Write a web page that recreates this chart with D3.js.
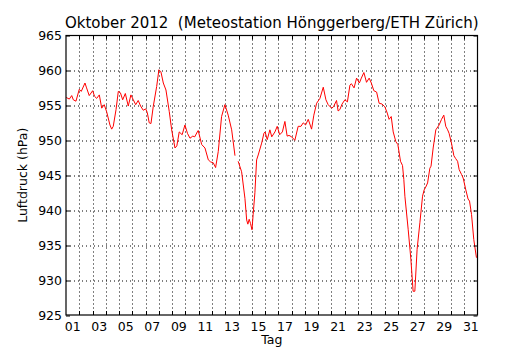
<!DOCTYPE html>
<html>
<head>
<meta charset="utf-8">
<script src="https://cdn.jsdelivr.net/npm/d3@7"></script>
<style>
  body { margin: 0; background: #fff; }
  text { font-family: "DejaVu Sans", sans-serif; white-space: pre; }
</style>
</head>
<body>
<svg id="chart" width="530" height="350"></svg>
<script>
// Luftdruck Oktober 2012, Tag als Dezimalzahl (1.0 = 1. Okt 00:00), null = Messlücke
var tage = [
  1.00, 1.05, 1.25, 1.43, 1.55, 1.75, 2.00, 2.15, 2.43, 2.55, 2.75, 3.01, 3.15, 3.31, 3.51, 3.69,
  3.88, 4.06, 4.31, 4.44, 4.56, 4.77, 4.94, 5.10, 5.27, 5.47, 5.69, 5.89, 6.07, 6.25, 6.44, 6.62,
  6.82, 7.00, 7.12, 7.27, 7.40, 7.57, 7.83, 8.00, 8.15, 8.33, 8.53, 8.78, 8.96, 9.21, 9.35, 9.53,
  9.75, 9.96, 10.15, 10.34, 10.55, 10.70, 10.89, 10.96, 11.22, 11.47, 11.72, 11.90, 12.09, 12.27,
  12.47, 12.72, 12.97, 13.22, 13.48, 13.73, 13.85, 13.97, 14.23, 14.48, 14.61, 14.70, 14.80, 14.90,
  15.01, 15.10, 15.23, 15.36, 15.48, 15.74, 15.91, 16.00, 16.16, 16.36, 16.50, 16.74, 16.91, 17.10,
  17.30, 17.49, 17.66, 17.80, 18.00, 18.24, 18.49, 18.70, 18.87, 19.05, 19.25, 19.50, 19.67, 19.88,
  20.13, 20.38, 20.58, 20.75, 21.01, 21.15, 21.38, 21.50, 21.63, 21.80, 22.01, 22.20, 22.39, 22.50,
  22.70, 22.89, 23.10, 23.25, 23.44, 23.64, 23.84, 24.00, 24.19, 24.40, 24.59, 24.80, 25.02, 25.20,
  25.34, 25.50, 25.65, 25.85, 26.00, 26.20, 26.35, 26.45, 26.53, 26.78, 26.98, 27.15, 27.28, 27.45,
  27.66, 27.86, 27.98, 28.10, 28.24, 28.41, 28.50, 28.66, 28.86, 29.11, 29.29, 29.46, 29.61, 29.75,
  29.86, 30.04, 30.22, 30.35, 30.50, 30.62, 30.80, 30.92, 31.12, 31.29, 31.40, 31.55, 31.72, 31.92
];
var druck = [
  956.2, 956.1, 955.9, 956.4, 955.8, 955.6, 957.3, 957.0, 958.2, 957.5, 956.4, 957.1, 956.3, 956.0, 956.5, 954.6,
  955.1, 954.1, 952.2, 951.6, 952.0, 954.4, 957.0, 956.8, 955.8, 956.7, 954.9, 956.5, 955.8, 955.1, 955.7, 954.9,
  954.3, 954.5, 954.0, 952.5, 952.4, 954.8, 957.7, 960.1, 959.8, 958.2, 957.2, 954.1, 951.5, 948.9, 949.2, 951.2,
  950.8, 952.2, 951.0, 950.3, 950.6, 950.5, 951.2, 951.4, 949.4, 948.9, 947.2, 946.9, 946.8, 946.1,
  948.4, 953.4, 955.1, 953.6, 951.5, 947.8, null, 947.0, 945.5, 941.7, 938.6, 938.0, 938.7, 938.1,
  937.2, 939.4, 942.5, 947.2, 947.9, 949.6, 951.0, 951.2, 950.1, 951.5, 950.5, 951.2, 952.0, 950.8,
  951.2, 952.7, 950.6, 950.7, 950.5, 950.0, 952.0, 952.0, 952.5, 952.2, 953.0, 951.6, 953.6, 955.3,
  956.0, 957.6, 955.8, 955.1, 954.6, 954.8, 955.7, 954.2, 954.4, 955.2, 955.8, 955.5, 957.9, 958.1,
  957.5, 958.9, 958.2, 958.9, 959.7, 958.3, 958.9, 958.2, 957.1, 956.9, 955.3, 955.2, 954.8, 953.9,
  953.0, 953.4, 951.2, 949.8, 949.4, 947.0, 946.4, 944.4, 942.0, 937.2, 933.0, 928.4, 928.4, 934.4,
  938.2, 942.0, 942.9, 943.3, 943.9, 946.0, 946.3, 948.9, 951.5, 952.2, 953.0, 953.6, 952.0, 951.5,
  951.0, 949.6, 947.8, 947.4, 947.0, 945.8, 945.1, 944.6, 942.9, 941.6, 941.3, 939.4, 935.8, 933.2
];
var yTicks = [925, 930, 935, 940, 945, 950, 955, 960, 965];
var tagLabels = ["01", "03", "05", "07", "09", "11", "13", "15", "17", "19", "21", "23", "25", "27", "29", "31"];
var titel = "Oktober 2012  (Meteostation Hönggerberg/ETH Zürich)";

const margin = {top: 35.5, right: 52.5, bottom: 35, left: 66};
var width = 530 - margin.left - margin.right;
var height = 350 - margin.top - margin.bottom;

var svg = d3.select("#chart");
var g = svg.append("g").attr("transform", "translate(" + margin.left + "," + margin.top + ")");

const xscale = d3.scaleLinear().domain([1, 32]).range([0, width]);
const yscale = d3.scaleLinear().domain([925, 965]).range([height, 0]);

// Tagesgrenzen (innen) und Tagesmitten der ungeraden Tage
var grenzen = d3.range(2, 32);
var mitten = tagLabels.map(function(s){ return +s + 0.5; });

// gitter
g.selectAll("line.vgrid").data(grenzen).enter().append("line")
  .attr("class", "vgrid")
  .attr("x1", d => Math.round(xscale(d)) + 0.5).attr("x2", d => Math.round(xscale(d)) + 0.5)
  .attr("y1", 0).attr("y2", height)
  .attr("stroke", "#000").attr("stroke-width", 1).attr("stroke-dasharray", "1,3");

g.selectAll("line.hgrid").data(yTicks.slice(1, -1)).enter().append("line")
  .attr("class", "hgrid")
  .attr("x1", 0).attr("x2", width)
  .attr("y1", d => Math.round(yscale(d)) + 0.5).attr("y2", d => Math.round(yscale(d)) + 0.5)
  .attr("stroke", "#000").attr("stroke-width", 1).attr("stroke-dasharray", "1,3");

// messkurve
var line = d3.line()
  .defined((d, i) => druck[i] != null)
  .x((d, i) => xscale(tage[i]))
  .y((d, i) => yscale(druck[i]));

g.append("path")
  .datum(tage)
  .attr("d", line)
  .attr("fill", "none")
  .attr("stroke", "#ff0000")
  .attr("stroke-width", 1);

// ticks nach innen, alle vier seiten
var tl = 4;
g.selectAll("line.xt").data(grenzen).enter().append("line")
  .attr("x1", d => Math.round(xscale(d)) + 0.5).attr("x2", d => Math.round(xscale(d)) + 0.5)
  .attr("y1", height).attr("y2", height - tl)
  .attr("stroke", "#000");
g.selectAll("line.xtt").data(grenzen).enter().append("line")
  .attr("x1", d => Math.round(xscale(d)) + 0.5).attr("x2", d => Math.round(xscale(d)) + 0.5)
  .attr("y1", 0).attr("y2", tl)
  .attr("stroke", "#000");
g.selectAll("line.yt").data(yTicks).enter().append("line")
  .attr("x1", 0).attr("x2", tl)
  .attr("y1", d => Math.round(yscale(d)) + 0.5).attr("y2", d => Math.round(yscale(d)) + 0.5)
  .attr("stroke", "#000");
g.selectAll("line.ytr").data(yTicks).enter().append("line")
  .attr("x1", width).attr("x2", width - tl)
  .attr("y1", d => Math.round(yscale(d)) + 0.5).attr("y2", d => Math.round(yscale(d)) + 0.5)
  .attr("stroke", "#000");

// rahmen
g.append("rect")
  .attr("x", 0).attr("y", 0).attr("width", width).attr("height", height)
  .attr("fill", "none").attr("stroke", "#000").attr("stroke-width", 1.2);

// beschriftung
g.selectAll("text.xl").data(mitten).enter().append("text")
  .attr("x", d => xscale(d)).attr("y", height + 15.5)
  .attr("text-anchor", "middle").attr("font-size", 12.5)
  .text((d, i) => tagLabels[i]);

g.selectAll("text.yl").data(yTicks).enter().append("text")
  .attr("x", -4).attr("y", d => yscale(d)).attr("dy", "0.36em")
  .attr("text-anchor", "end").attr("font-size", 12.5)
  .text(d => d);

svg.append("text")
  .attr("x", margin.left + width / 2).attr("y", 344)
  .attr("text-anchor", "middle").attr("font-size", 12.5)
  .text("Tag");

svg.append("text")
  .attr("transform", "translate(27," + (margin.top + height / 2) + ") rotate(-90)")
  .attr("text-anchor", "middle").attr("font-size", 12.5)
  .text("Luftdruck (hPa)");

svg.append("text")
  .attr("x", margin.left + width / 2).attr("y", 28)
  .attr("text-anchor", "middle").attr("font-size", 15)
  .text(titel);
</script>
</body>
</html>
